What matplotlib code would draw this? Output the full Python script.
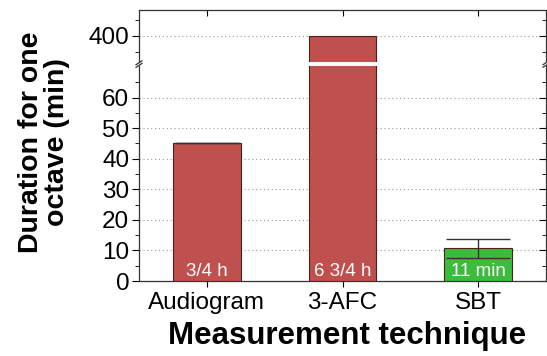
import matplotlib
matplotlib.use("Agg")
import matplotlib.pyplot as plt

plt.rcParams['font.family'] = ['Liberation Sans', 'DejaVu Sans']

# data
techniques = ['Audiogram', '3-AFC', 'SBT']
durations = [45, 400, 10.8]
err_low = [0, 0, 3.2]
err_high = [0, 0, 3.0]
bar_labels = ['3/4 h', '6 3/4 h', '11 min']
bar_colors = ['#C0504D', '#C0504D', '#3DBB3D']

fig = plt.figure(figsize=(5.47, 3.56), dpi=100)
left, right = 139 / 547, 546 / 547
ax_top = fig.add_axes([left, 1 - 62 / 356, right - left, 52 / 356])
ax_bot = fig.add_axes([left, 1 - 281 / 356, right - left, 215 / 356])

x = range(len(techniques))
for ax in (ax_top, ax_bot):
    ax.bar(x, durations, width=0.5, color=bar_colors, edgecolor='#4a2020',
           linewidth=0.8, zorder=3)
    ax.set_xlim(-0.5, 2.5)
    ax.yaxis.grid(True, which='major', linestyle=(0, (1, 2.5)), color='#999999',
                  linewidth=0.8, zorder=0)
    for s in ax.spines.values():
        s.set_color('#333333')
        s.set_linewidth(0.9)

# error bar on SBT
ax_bot.errorbar(x, durations, yerr=[err_low, err_high], fmt='none',
                ecolor='#333333', elinewidth=1, capsize=23, capthick=1, zorder=4)

# top part
ax_top.set_ylim(392, 408)
ax_top.set_yticks([400])
ax_top.set_yticks([395, 405], minor=True)
ax_top.spines['bottom'].set_visible(False)
ax_top.set_xticks(list(x))
ax_top.tick_params(axis='x', top=True, bottom=False, labelbottom=False,
                   direction='in', length=4)
ax_top.tick_params(axis='y', which='both', left=True, right=True, labelsize=17.5,
                   pad=2)
ax_top.tick_params(axis='y', which='major', length=5)
ax_top.tick_params(axis='y', which='minor', length=3)

# bottom part
ax_bot.set_ylim(0, 70.3)
ax_bot.set_yticks(range(0, 61, 10))
ax_bot.set_yticks(range(5, 70, 5), minor=True)
ax_bot.spines['top'].set_visible(False)
ax_bot.set_xticks(list(x))
ax_bot.set_xticklabels(techniques, fontsize=17.5)
ax_bot.tick_params(axis='x', direction='out', length=4, pad=4)
ax_bot.tick_params(axis='y', which='both', left=True, right=True, labelsize=17.5,
                   pad=2)
ax_bot.tick_params(axis='y', which='major', length=5)
ax_bot.tick_params(axis='y', which='minor', length=3)

for ax in (ax_top, ax_bot):
    for t in ax.yaxis.get_major_ticks() + ax.yaxis.get_minor_ticks():
        t.tick2line.set_marker(matplotlib.lines.TICKLEFT)

for i, lab in enumerate(bar_labels):
    ax_bot.text(i, 1.6, lab, color='white', fontsize=13.5, ha='center',
                va='baseline', zorder=5)

# break marks
d = 4 / 547
for xx in (0, 1):
    ax_bot.plot([xx - d, xx + d], [1.0 - 0.006, 1.0 + 0.012], color='#333333',
                lw=0.9, transform=ax_bot.transAxes, clip_on=False)
    ax_bot.plot([xx - d, xx + d], [1.0 + 0.006, 1.0 + 0.024], color='#333333',
                lw=0.9, transform=ax_bot.transAxes, clip_on=False)

ax_bot.set_xlabel('Measurement technique', fontsize=22.5, fontweight='bold',
                  labelpad=6)
ax_bot.xaxis.set_label_coords(0.51, -0.185)
ax_bot.xaxis.label.set_va('top')
fig.text(44 / 547, 1 - 142 / 356, 'Duration for one\noctave (min)', rotation=90,
         fontsize=20.5, fontweight='bold', ha='center', va='center',
         linespacing=0.95)

fig.savefig('out.png', dpi=100)
